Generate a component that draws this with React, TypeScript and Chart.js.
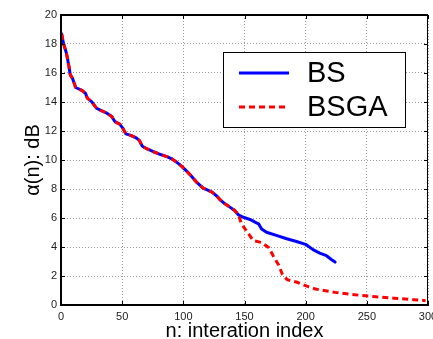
import React, { useEffect, useRef } from "react";
import { Chart, registerables } from "chart.js";

Chart.register(...registerables);

// ---- data ----
const sharedN = [0.5, 2, 4.5, 6.5, 7.5, 9.5, 12, 17, 20, 21.5, 25, 29, 33, 37.5, 41.5, 44, 48, 50.5, 53, 57, 61, 64, 66.5, 70, 75.5, 82, 87, 90.5, 94.5, 98.5, 102.5, 106.5, 111, 116, 119, 123.5, 127.5, 130, 134, 138, 142, 145];
const sharedA = [18.7, 18.05, 17.35, 16.45, 15.9, 15.6, 15.0, 14.8, 14.6, 14.27, 14.03, 13.57, 13.4, 13.23, 13.0, 12.65, 12.47, 12.2, 11.8, 11.7, 11.55, 11.35, 10.95, 10.78, 10.57, 10.36, 10.22, 10.08, 9.85, 9.58, 9.25, 8.9, 8.45, 8.07, 7.95, 7.78, 7.5, 7.26, 6.98, 6.75, 6.52, 6.22];
const bsTailN = [149, 154.5, 159, 161.5, 164, 168, 176, 184.5, 192.5, 200.5, 206, 211.5, 217, 221, 224];
const bsTailA = [6.05, 5.9, 5.7, 5.6, 5.24, 5.02, 4.8, 4.57, 4.38, 4.16, 3.82, 3.58, 3.4, 3.14, 2.96];
const gaTailN = [147.5, 152, 157, 164, 170, 174, 178, 181, 185, 193, 201, 208, 216, 224, 238, 255, 272, 288, 298];
const gaTailA = [5.6, 5.07, 4.45, 4.31, 3.95, 3.3, 2.75, 2.1, 1.74, 1.57, 1.3, 1.1, 0.98, 0.87, 0.72, 0.59, 0.47, 0.37, 0.3];
const seriesLabels = ["BS", "BSGA"];
const xTickValues = [0, 50, 100, 150, 200, 250, 300];
const yTickValues = [0, 2, 4, 6, 8, 10, 12, 14, 16, 18, 20];
const xTitle = "n: interation index";
const yTitle = "α(n): dB";

const FONT = "'Liberation Sans', Arial, Helvetica, sans-serif";

const toPoints = (n: number[], a: number[]) => n.map((v, i) => ({ x: v, y: a[i] }));

const framePlugin = {
  id: "frame",
  afterDatasetsDraw(chart: any) {
    const { ctx, chartArea: ca, scales } = chart;
    const xs = scales.x;
    const ys = scales.y;
    ctx.save();
    ctx.strokeStyle = "#000";
    ctx.lineWidth = 1;
    const tl = 4;
    ctx.beginPath();
    xTickValues.forEach((v) => {
      const px = Math.round(xs.getPixelForValue(v)) + 0.5;
      ctx.moveTo(px, ca.bottom);
      ctx.lineTo(px, ca.bottom - tl);
      ctx.moveTo(px, ca.top);
      ctx.lineTo(px, ca.top + tl);
    });
    yTickValues.forEach((v) => {
      const py = Math.round(ys.getPixelForValue(v)) + 0.5;
      ctx.moveTo(ca.left, py);
      ctx.lineTo(ca.left + tl, py);
      ctx.moveTo(ca.right, py);
      ctx.lineTo(ca.right - tl, py);
    });
    ctx.stroke();
    // frame
    ctx.lineWidth = 2;
    ctx.beginPath();
    ctx.moveTo(ca.left, ca.top);
    ctx.lineTo(ca.right, ca.top);
    ctx.moveTo(ca.left, ca.top - 1);
    ctx.lineTo(ca.left, ca.bottom + 1);
    ctx.moveTo(ca.left - 1, ca.bottom);
    ctx.lineTo(ca.right + 1, ca.bottom);
    ctx.stroke();
    ctx.lineWidth = 1;
    ctx.beginPath();
    ctx.moveTo(Math.round(ca.right) - 0.5, ca.top);
    ctx.lineTo(Math.round(ca.right) - 0.5, ca.bottom);
    ctx.stroke();
    ctx.restore();
  },
};

const legendPlugin = {
  id: "boxLegend",
  afterDraw(chart: any) {
    const { ctx, chartArea: ca } = chart;
    const bx = ca.left + 162;
    const by = ca.top + 37;
    const bw = 182;
    const bh = 75;
    ctx.save();
    ctx.fillStyle = "#fff";
    ctx.fillRect(bx, by, bw, bh);
    ctx.strokeStyle = "#000";
    ctx.lineWidth = 1;
    ctx.strokeRect(bx + 0.5, by + 0.5, bw, bh);
    const ds = chart.data.datasets;
    const rows = [by + 21, by + 55];
    ds.forEach((d: any, i: number) => {
      const y = rows[i];
      ctx.save();
      ctx.strokeStyle = d.borderColor;
      ctx.lineWidth = 3;
      ctx.lineCap = "butt";
      ctx.setLineDash(d.borderDash || []);
      ctx.beginPath();
      ctx.moveTo(bx + 16, y);
      ctx.lineTo(bx + 66, y);
      ctx.stroke();
      ctx.restore();
      ctx.fillStyle = "#000";
      ctx.font = `29px ${FONT}`;
      ctx.textBaseline = "middle";
      ctx.textAlign = "left";
      ctx.fillText(d.label, bx + 84, y + 1);
    });
    ctx.restore();
  },
};

export default function App() {
  const ref = useRef<HTMLCanvasElement | null>(null);
  useEffect(() => {
    document.body.style.margin = "0";
    const canvas = ref.current;
    if (!canvas) return;
    const chart = new Chart(canvas, {
      type: "scatter",
      data: {
        datasets: [
          {
            label: seriesLabels[0],
            data: toPoints([...sharedN, ...bsTailN], [...sharedA, ...bsTailA]),
            showLine: true,
            borderColor: "#0000ff",
            backgroundColor: "#0000ff",
            borderWidth: 3,
            pointRadius: 0,
            borderJoinStyle: "round",
            borderCapStyle: "round",
            order: 1,
          },
          {
            label: seriesLabels[1],
            data: toPoints([...sharedN, ...gaTailN], [...sharedA, ...gaTailA]),
            showLine: true,
            borderColor: "#ff0000",
            backgroundColor: "#ff0000",
            borderWidth: 3,
            borderDash: [6, 4],
            borderCapStyle: "butt",
            pointRadius: 0,
            order: 0,
          },
        ],
      },
      options: {
        responsive: false,
        animation: false,
        devicePixelRatio: 1,
        layout: { padding: { top: 15, right: 5, left: 0, bottom: 0 } },
        plugins: { legend: { display: false }, tooltip: { enabled: false } },
        scales: {
          x: {
            type: "linear",
            min: 0,
            max: 300,
            afterBuildTicks: (s: any) => {
              s.ticks = xTickValues.map((v) => ({ value: v }));
            },
            afterFit: (s: any) => {
              s.height = 34;
              s.paddingLeft = 0;
              s.paddingRight = 0;
            },
            grid: { color: "#999", lineWidth: 1, drawTicks: false },
            border: { display: false, dash: [1, 2] },
            ticks: { color: "#222", font: { family: FONT, size: 11 }, padding: 5, maxRotation: 0, autoSkip: false },
            title: { display: true, text: xTitle, color: "#000", font: { family: FONT, size: 20, lineHeight: 1 }, padding: { top: 0, bottom: -2 } },
          },
          y: {
            type: "linear",
            min: 0,
            max: 20,
            afterBuildTicks: (s: any) => {
              s.ticks = yTickValues.map((v) => ({ value: v }));
            },
            afterFit: (s: any) => {
              s.width = 61;
              s.paddingTop = 0;
              s.paddingBottom = 0;
            },
            grid: { color: "#999", lineWidth: 1, drawTicks: false },
            border: { display: false, dash: [1, 2] },
            ticks: { color: "#222", font: { family: FONT, size: 11 }, padding: 4, autoSkip: false },
            title: { display: true, text: yTitle, color: "#000", font: { family: FONT, size: 20, lineHeight: 1 }, padding: { top: 23, bottom: 0 } },
          },
        },
      },
      plugins: [framePlugin, legendPlugin],
    } as any);
    return () => chart.destroy();
  }, []);
  return (
    <div style={{ position: "fixed", left: 0, top: 0, width: 433, height: 339, background: "#fff" }}>
      <canvas ref={ref} width={433} height={339} style={{ width: 433, height: 339, display: "block" }} />
    </div>
  );
}
